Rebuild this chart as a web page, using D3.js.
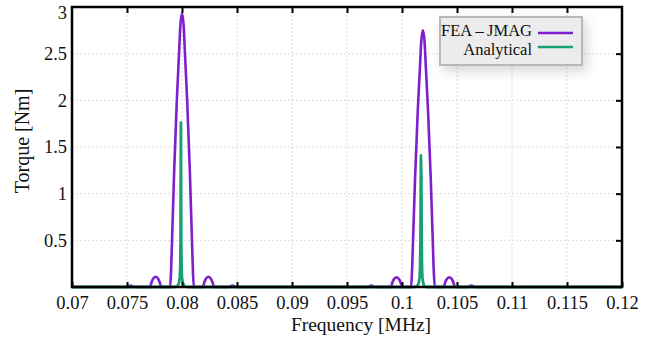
<!DOCTYPE html>
<html>
<head>
<meta charset="utf-8">
<script src="https://cdn.jsdelivr.net/npm/d3@7"></script>
<style>
  body { margin: 0; background: #fff; }
  text { font-family: "Liberation Serif", "Times New Roman", serif; fill: #111; }
</style>
</head>
<body>
<svg id="chart" width="667" height="341"></svg>
<script>
// tick values
var xTicks = [0.07, 0.075, 0.08, 0.085, 0.09, 0.095, 0.1, 0.105, 0.11, 0.115, 0.12]
var yTicks = [0.5, 1, 1.5, 2, 2.5, 3]

// FEA - JMAG
var feaFreq = [0.07, 0.0749, 0.0753, 0.0757, 0.0771, 0.0772, 0.07735, 0.0776, 0.07785, 0.078, 0.0781,
  0.07892, 0.079, 0.07912, 0.07929, 0.07953, 0.07973, 0.07985, 0.08, 0.08015, 0.08027, 0.08047, 0.08071, 0.08088, 0.081, 0.08108,
  0.0819, 0.082, 0.08215, 0.0824, 0.08265, 0.0828, 0.0829, 0.0842, 0.0846, 0.085,
  0.0968, 0.0972, 0.0976, 0.099, 0.0991, 0.09925, 0.0995, 0.09975, 0.0999, 0.1,
  0.10082, 0.1009, 0.10102, 0.10119, 0.10143, 0.10163, 0.10175, 0.1019, 0.10205, 0.10217, 0.10237, 0.10261, 0.10278, 0.1029, 0.10298,
  0.1038, 0.1039, 0.10405, 0.1043, 0.10455, 0.1047, 0.1048, 0.1059, 0.1063, 0.1067, 0.12]
var feaTorque = [0, 0, 0.015, 0, 0, 0.04, 0.085, 0.11, 0.085, 0.04, 0,
  0, 0.15, 0.6, 1.25, 2.0, 2.5, 2.8, 2.93, 2.8, 2.5, 2.0, 1.25, 0.6, 0.15, 0,
  0, 0.04, 0.085, 0.11, 0.085, 0.04, 0, 0, 0.015, 0,
  0, 0.015, 0, 0, 0.04, 0.08, 0.105, 0.08, 0.04, 0,
  0, 0.14, 0.56, 1.17, 1.88, 2.35, 2.63, 2.75, 2.63, 2.35, 1.88, 1.17, 0.56, 0.14, 0,
  0, 0.04, 0.08, 0.105, 0.08, 0.04, 0, 0, 0.015, 0, 0]

// Analytical
var anaFreq = [0.07, 0.0792, 0.0795, 0.0796, 0.0797, 0.07975, 0.0798, 0.07984, 0.07987, 0.0799,
  0.07993, 0.07996, 0.08, 0.08005, 0.0801, 0.0802, 0.0803, 0.0806,
  0.101, 0.1013, 0.1014, 0.1015, 0.10155, 0.1016, 0.10164, 0.10168, 0.10172,
  0.10176, 0.10179, 0.10182, 0.10186, 0.1019, 0.10195, 0.102, 0.1021, 0.1022, 0.1025, 0.12]
var anaTorque = [0, 0, 0.005, 0.015, 0.035, 0.06, 0.1, 0.2, 0.5, 1.76,
  0.5, 0.2, 0.1, 0.06, 0.035, 0.015, 0.005, 0,
  0, 0.005, 0.015, 0.035, 0.06, 0.1, 0.2, 0.5, 1.41,
  1.16, 0.5, 0.2, 0.1, 0.06, 0.035, 0.015, 0.005, 0, 0, 0]

var series = [
  {name: "FEA\u2009\u2013\u2009JMAG", color: "#7d1fcc", freq: feaFreq, torque: feaTorque, curve: d3.curveMonotoneX, width: 2.6},
  {name: "Analytical", color: "#17a077", freq: anaFreq, torque: anaTorque, curve: d3.curveLinear, width: 2.8}
]

var svg = d3.select("#chart")
var pLeft = 72, pRight = 622, pTop = 7, pBottom = 287

var x = d3.scaleLinear().domain([0.07, 0.12]).range([pLeft, pRight])
var y = d3.scaleLinear().domain([0, 3]).range([pBottom, pTop])

var fmt = function (d) { return String(+d.toFixed(3)) }

// grid
var grid = svg.append("g")
grid.selectAll(".vg").data(xTicks.slice(1, -1)).enter().append("line")
    .attr("x1", function (d) { return x(d) }).attr("x2", function (d) { return x(d) })
    .attr("y1", pTop).attr("y2", pBottom)
    .attr("stroke", "#d9d9d9").attr("stroke-dasharray", "2,2")
grid.selectAll(".hg").data(yTicks.slice(0, -1)).enter().append("line")
    .attr("x1", pLeft).attr("x2", pRight)
    .attr("y1", function (d) { return y(d) }).attr("y2", function (d) { return y(d) })
    .attr("stroke", "#d9d9d9").attr("stroke-dasharray", "2,2")

// lines
series.forEach(function (s) {
  var pts = s.freq.map(function (f, i) { return [f, s.torque[i]] })
  var line = d3.line()
      .x(function (d) { return x(d[0]) })
      .y(function (d) { return y(d[1]) })
      .curve(s.curve)
  svg.append("path").datum(pts)
     .attr("d", line)
     .attr("fill", "none")
     .attr("stroke", s.color)
     .attr("stroke-width", s.width)
     .attr("stroke-linejoin", "round")
})

// axes via d3 axis, ticks pointing inward
var xb = svg.append("g").attr("transform", "translate(0," + pBottom + ")")
  .call(d3.axisBottom(x).tickValues(xTicks).tickFormat(fmt).tickSize(-5).tickPadding(9))
xb.select(".domain").remove()
xb.selectAll("text").attr("font-size", "18.5px").attr("font-family", "Liberation Serif, serif")
xb.selectAll("line").attr("stroke", "#000").attr("stroke-width", 2)

var xt = svg.append("g").attr("transform", "translate(0," + pTop + ")")
  .call(d3.axisTop(x).tickValues(xTicks.slice(1, -1)).tickFormat("").tickSize(-6))
xt.select(".domain").remove()
xt.selectAll("line").attr("stroke", "#000").attr("stroke-width", 2)

var yl = svg.append("g").attr("transform", "translate(" + pLeft + ",0)")
  .call(d3.axisLeft(y).tickValues(yTicks).tickFormat(fmt).tickSize(0).tickPadding(5))
yl.select(".domain").remove()
yl.selectAll("text").attr("font-size", "18.5px").attr("font-family", "Liberation Serif, serif")
// top label sits a little lower so it stays inside the page
yl.selectAll(".tick").filter(function (d) { return d === 3 }).select("text").attr("y", 6)

var yr = svg.append("g").attr("transform", "translate(" + pRight + ",0)")
  .call(d3.axisRight(y).tickValues(yTicks.slice(0, -1)).tickFormat("").tickSize(-6))
yr.select(".domain").remove()
yr.selectAll("line").attr("stroke", "#000").attr("stroke-width", 2)

// frame
svg.append("rect")
   .attr("x", pLeft).attr("y", pTop)
   .attr("width", pRight - pLeft).attr("height", pBottom - pTop)
   .attr("fill", "none").attr("stroke", "#000").attr("stroke-width", 2.5)

// axis titles
svg.append("text")
   .attr("x", 361).attr("y", 331)
   .attr("text-anchor", "middle").attr("font-size", "19.5px")
   .text("Frequency [MHz]")
svg.append("text")
   .attr("transform", "translate(29,141) rotate(-90)")
   .attr("text-anchor", "middle").attr("font-size", "20px")
   .text("Torque [Nm]")

// legend
var defs = svg.append("defs")
var f = defs.append("filter").attr("id", "shadow").attr("x", "-30%").attr("y", "-50%").attr("width", "170%").attr("height", "220%")
f.append("feDropShadow").attr("dx", 4).attr("dy", 5).attr("stdDeviation", 6)
 .attr("flood-color", "#888").attr("flood-opacity", 0.35)

var lg = svg.append("g")
lg.append("rect")
  .attr("x", 440).attr("y", 17).attr("width", 142).attr("height", 48)
  .attr("fill", "#ececec").attr("stroke", "#b8b8b8").attr("stroke-width", 2)
  .attr("filter", "url(#shadow)")
series.forEach(function (s, i) {
  lg.append("text")
    .attr("x", 532).attr("y", 36 + i * 19)
    .attr("text-anchor", "end").attr("font-size", "16.5px")
    .text(s.name)
  lg.append("line")
    .attr("x1", 538).attr("x2", 573)
    .attr("y1", 33 + i * 14).attr("y2", 33 + i * 14)
    .attr("stroke", s.color).attr("stroke-width", 2.5)
})
</script>
</body>
</html>
